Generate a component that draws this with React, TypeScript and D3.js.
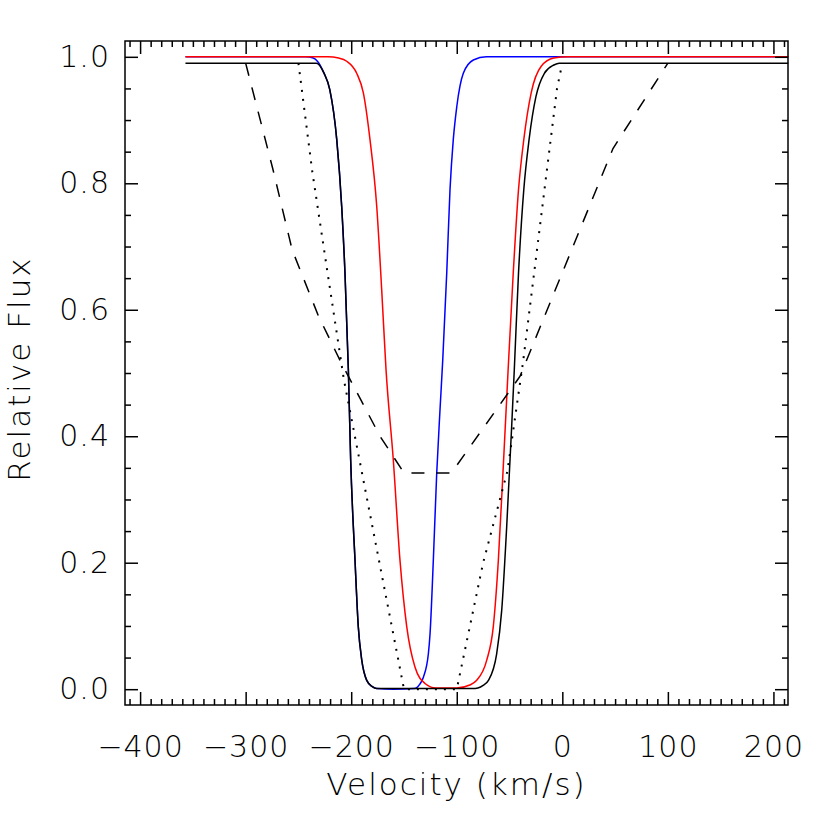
import * as d3 from "d3";
import { useEffect, useRef } from "react";

// ---- data ----
const velBlack = [-357, -233, -226, -220.3, -213.7, -209, -205.9, -202.7, -200.5, -196.4, -193.3, -190, -185.3, -180, -175.8, -85, -80, -75, -70, -62.2, -57.4, -52.7, -48, -45.5, -41.5, -36.5, -31.5, -25, -17, -8, -3, 214];
const fluxBlack = [0.99, 0.99, 0.975, 0.948, 0.869, 0.763, 0.658, 0.505, 0.362, 0.204, 0.099, 0.046, 0.014, 0.004, 0.001, 0.001, 0.002, 0.006, 0.014, 0.056, 0.125, 0.257, 0.415, 0.505, 0.658, 0.79, 0.869, 0.937, 0.974, 0.987, 0.99, 0.99];

const velRed = [-357, -222, -212, -204.3, -194.8, -188.5, -182.2, -175.8, -171.1, -167, -160.1, -153.8, -147.4, -139.6, -130.1, -120, -100, -87, -81.1, -71.6, -65.4, -60.6, -56, -51.5, -46.5, -41.5, -36.5, -29.5, -20, -8, 5, 214];
const fluxRed = [1.0, 1.0, 0.998, 0.993, 0.974, 0.943, 0.869, 0.763, 0.631, 0.505, 0.362, 0.204, 0.099, 0.035, 0.009, 0.002, 0.002, 0.007, 0.014, 0.046, 0.099, 0.204, 0.35, 0.5, 0.658, 0.79, 0.869, 0.943, 0.985, 0.998, 1.0, 1.0];

const velBlue = [-357, -243, -236, -232, -226, -220.3, -213.7, -209, -205.9, -202.7, -200.5, -196.4, -193.3, -190, -185.3, -180, -175.8, -160, -140, -135, -131.6, -126.9, -125.3, -122.2, -119, -115.9, -113.3, -109.5, -106.4, -103.3, -100, -93.8, -84.3, -72, 214];
const fluxBlue = [1.0, 1.0, 0.998, 0.993, 0.975, 0.948, 0.869, 0.763, 0.658, 0.505, 0.362, 0.204, 0.099, 0.046, 0.014, 0.004, 0.001, 0.0, 0.001, 0.008, 0.019, 0.056, 0.088, 0.204, 0.341, 0.441, 0.52, 0.658, 0.79, 0.869, 0.921, 0.974, 0.995, 1.0, 1.0];

const velDashed = [-300, -274, -256, -231, -210.6, -172.7, -150, -105, -40, 48, 100];
const fluxDashed = [0.99, 0.821, 0.695, 0.59, 0.52, 0.4, 0.342, 0.342, 0.495, 0.855, 0.99];

const velDotted = [-250, -237, -223, -207, -150, -100, -75, -52, -37, -5, 0];
const fluxDotted = [0.99, 0.82, 0.665, 0.49, 0.0, 0.0, 0.2, 0.345, 0.52, 0.95, 0.99];

const xMajor = [-400, -300, -200, -100, 0, 100, 200];
const yMajor = [0, 0.2, 0.4, 0.6, 0.8, 1.0];

export default function App() {
    const ref = useRef<SVGSVGElement>(null);

    useEffect(() => {
        const width = 830;
        const height = 830;
        const margin = { top: 41, right: 42, bottom: 125, left: 125 };
        const innerW = width - margin.left - margin.right;
        const innerH = height - margin.top - margin.bottom;
        const font = "'DejaVu Sans', sans-serif";

        const svg = d3.select(ref.current);
        svg.selectAll("*").remove();

        const g = svg.append("g").attr("transform", `translate(${margin.left},${margin.top})`);

        const x = d3.scaleLinear().domain([-414.3, 213.8]).range([0, innerW]);
        const y = d3.scaleLinear().domain([-0.025, 1.025]).range([innerH, 0]);

        const xMinor = d3.range(-410, 211, 10).filter((d) => d % 100 !== 0);
        const yMinor = d3.range(0, 21).map((i) => i * 0.05).filter((_, i) => i % 4 !== 0);

        // ---- curves ----
        const draw = (vs: number[], fs: number[], color: string, dash: string | null, smooth: boolean, sw = 1.5) => {
            const line = d3
                .line<number>()
                .x((d) => x(d))
                .y((_, i) => y(fs[i]))
                .curve(smooth ? d3.curveMonotoneX : d3.curveLinear);
            const p = g
                .append("path")
                .attr("d", line(vs))
                .attr("fill", "none")
                .attr("stroke", color)
                .attr("stroke-width", sw);
            if (dash) p.attr("stroke-dasharray", dash);
        };
        draw(velBlue, fluxBlue, "#0000ff", null, true);
        draw(velRed, fluxRed, "#ff0000", null, true);
        draw(velBlack, fluxBlack, "#000000", null, true);
        draw(velDashed, fluxDashed, "#000000", "13,12", false);
        draw(velDotted, fluxDotted, "#000000", "2,7", false, 2);

        // ---- axes (ticks inward on all four sides) ----
        const styleAxis = (sel: d3.Selection<SVGGElement, unknown, null, undefined>) => {
            sel.select(".domain").remove();
            sel.selectAll("line").attr("stroke", "#000").attr("stroke-width", 1.5);
        };

        const bottom = g.append("g").attr("transform", `translate(0,${innerH})`);
        bottom.call(d3.axisBottom(x).tickValues(xMajor).tickSize(-13).tickSizeOuter(0).tickPadding(30.5).tickFormat(d3.format("d")));
        styleAxis(bottom);
        bottom.selectAll("text").attr("font-size", 30).attr("font-family", font).attr("font-weight", 200).attr("fill", "#000").attr("letter-spacing", 1);

        const bottomMinor = g.append("g").attr("transform", `translate(0,${innerH})`);
        bottomMinor.call(d3.axisBottom(x).tickValues(xMinor).tickSize(-6).tickSizeOuter(0).tickFormat(() => ""));
        styleAxis(bottomMinor);

        const top = g.append("g");
        top.call(d3.axisTop(x).tickValues(xMajor).tickSize(-13).tickSizeOuter(0).tickFormat(() => ""));
        styleAxis(top);
        const topMinor = g.append("g");
        topMinor.call(d3.axisTop(x).tickValues(xMinor).tickSize(-6).tickSizeOuter(0).tickFormat(() => ""));
        styleAxis(topMinor);

        const left = g.append("g");
        left.call(d3.axisLeft(y).tickValues(yMajor).tickSize(-13).tickSizeOuter(0).tickPadding(15).tickFormat(d3.format(".1f")));
        styleAxis(left);
        left.selectAll("text").attr("font-size", 30).attr("font-family", font).attr("font-weight", 200).attr("fill", "#000").attr("letter-spacing", 1);
        const leftMinor = g.append("g");
        leftMinor.call(d3.axisLeft(y).tickValues(yMinor).tickSize(-6).tickSizeOuter(0).tickFormat(() => ""));
        styleAxis(leftMinor);

        const right = g.append("g").attr("transform", `translate(${innerW},0)`);
        right.call(d3.axisRight(y).tickValues(yMajor).tickSize(-13).tickSizeOuter(0).tickFormat(() => ""));
        styleAxis(right);
        const rightMinor = g.append("g").attr("transform", `translate(${innerW},0)`);
        rightMinor.call(d3.axisRight(y).tickValues(yMinor).tickSize(-6).tickSizeOuter(0).tickFormat(() => ""));
        styleAxis(rightMinor);

        // ---- frame ----
        g.append("rect")
            .attr("x", 0)
            .attr("y", 0)
            .attr("width", innerW)
            .attr("height", innerH)
            .attr("fill", "none")
            .attr("stroke", "#000")
            .attr("stroke-width", 1.5);

        // ---- titles ----
        svg.append("text")
            .attr("x", margin.left + innerW / 2)
            .attr("y", 795)
            .attr("text-anchor", "middle")
            .attr("font-size", 31)
            .attr("font-family", font)
            .attr("font-weight", 200)
            .attr("letter-spacing", 2)
            .text("Velocity (km/s)");

        svg.append("text")
            .attr("transform", `translate(30,${margin.top + innerH / 2 - 4}) rotate(-90)`)
            .attr("text-anchor", "middle")
            .attr("font-size", 31)
            .attr("font-family", font)
            .attr("font-weight", 200)
            .attr("letter-spacing", 2)
            .text("Relative Flux");
    }, []);

    return (
        <svg
            ref={ref}
            width={830}
            height={830}
            style={{ position: "absolute", left: 0, top: 0, background: "#fff" }}
        />
    );
}
